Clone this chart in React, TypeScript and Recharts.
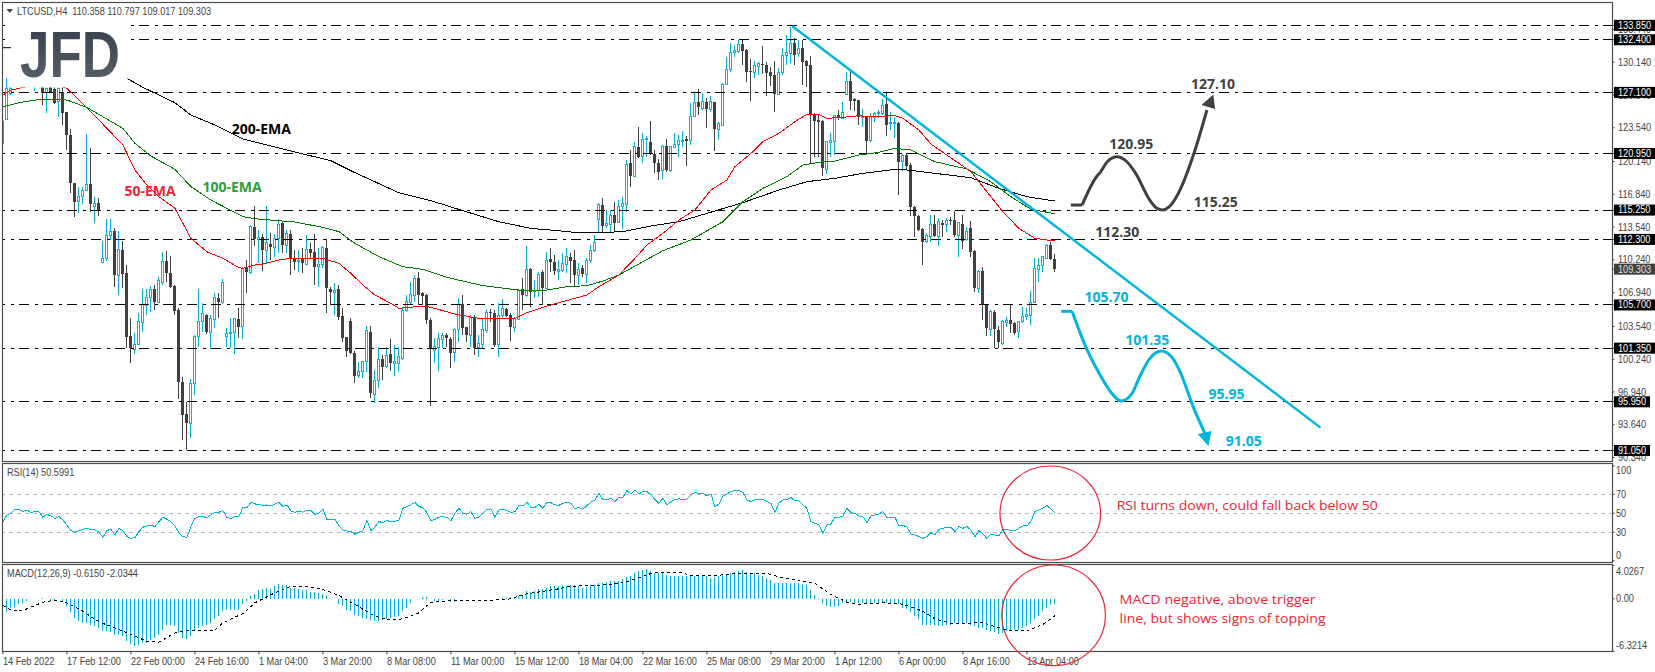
import { Bar, ComposedChart, Line, ReferenceDot, ReferenceLine, XAxis, YAxis } from "recharts";

const openPrices = [
  121.97,124.39,127.00,127.7,128.2,128.6,128.1,128.5,128.0,128.3,
  127.61,127.07,127.61,127.41,126.16,127.17,125.09,122.81,117.94,116.10,
  116.60,117.20,117.87,115.59,116.00,109.95,110.39,112.67,113.14,108.71,
  111.23,108.88,102.57,101.23,101.67,103.95,105.63,106.46,107.27,105.93,
  107.94,110.12,108.88,107.61,105.19,97.97,94.68,93.78,97.81,102.50,
  104.01,104.69,102.91,104.28,106.43,105.93,102.50,102.84,102.91,104.25,
  103.51,109.38,108.95,113.51,112.24,112.51,111.16,111.83,111.50,112.40,
  113.91,111.73,112.84,110.39,110.06,110.39,109.82,111.30,111.06,109.55,
  109.79,111.40,107.30,106.97,107.27,104.59,102.44,104.12,100.89,98.58,
  99.05,99.99,103.01,96.70,98.07,100.22,99.48,100.76,99.82,99.82,
  100.32,105.12,105.96,106.70,108.44,106.87,106.70,104.18,101.09,101.43,
  102.27,102.67,102.24,100.93,103.24,105.79,103.44,102.67,104.52,101.43,
  101.67,103.11,105.02,104.92,101.67,104.59,105.26,104.69,103.44,104.28,
  107.27,106.70,109.28,107.03,107.14,109.05,107.37,110.29,110.06,109.05,
  109.15,109.82,110.49,110.22,108.71,109.38,108.81,110.16,111.16,114.32,
  115.76,113.65,113.85,114.75,113.98,115.59,115.86,119.96,118.68,121.63,
  120.63,122.37,122.07,120.90,119.96,119.22,121.70,119.22,121.57,121.90,
  122.24,122.37,122.24,124.65,126.10,125.49,126.16,125.33,126.16,123.38,
  123.81,127.88,129.42,131.10,131.20,131.94,131.37,129.25,129.08,129.69,
  129.96,129.86,129.12,128.85,126.84,129.12,130.86,131.03,132.04,131.03,
  131.53,130.26,129.86,124.92,124.32,124.25,119.38,122.04,122.14,124.82,
  124.49,126.90,128.25,126.40,126.33,124.59,124.65,122.30,124.59,124.99,
  124.99,125.93,123.92,123.92,124.05,120.12,120.79,119.79,115.59,114.65,
  113.31,112.07,112.64,113.85,112.64,113.98,113.75,114.25,114.25,112.74,
  113.85,112.24,113.41,111.16,107.37,109.12,105.79,103.24,105.02,103.18,
  101.83,103.91,104.18,103.91,103.01,104.01,104.52,104.59,105.93,109.28,
  109.65,110.39,111.73,110.358,
];

const highPrices = [
  124.99,128.51,127.61,128.6,129.0,129.3,128.9,129.1,128.7,129.0,
  128.3,128.0,127.9,127.7,127.9,127.8,125.09,123.38,117.94,117.61,
  117.61,122.88,121.47,116.60,116.43,112.17,114.35,114.35,113.41,113.14,
  112.17,109.72,104.35,102.84,104.85,107.27,107.27,107.61,107.71,108.54,
  111.06,111.16,110.63,107.71,105.36,98.41,95.96,98.21,102.67,107.27,
  105.86,104.79,104.69,106.93,106.93,108.28,103.34,104.35,104.35,105.36,
  109.49,110.22,113.75,115.66,113.24,112.84,115.66,112.91,112.84,114.35,
  114.08,113.24,113.24,111.23,111.23,111.40,112.74,111.90,112.81,111.40,
  111.63,112.30,107.47,107.87,107.71,105.36,102.50,104.35,101.09,99.99,
  99.99,103.58,103.58,99.15,101.50,100.66,101.50,102.24,101.67,101.50,
  105.53,106.70,107.97,108.71,109.05,107.03,106.80,104.35,102.34,102.84,
  102.84,102.84,102.50,103.34,106.36,106.70,103.51,104.69,104.69,102.67,
  104.35,105.26,105.26,105.19,105.86,106.30,105.36,104.85,104.52,107.27,
  108.38,111.63,109.45,108.21,109.05,109.22,111.06,111.40,110.73,110.22,
  110.89,111.40,110.89,111.23,109.89,109.72,110.39,111.73,112.74,115.93,
  116.43,115.26,115.26,116.10,116.26,116.60,120.29,121.30,122.14,123.65,
  122.98,122.71,124.22,121.30,120.36,121.80,122.37,121.70,122.98,122.81,
  123.21,122.71,126.00,127.07,127.41,127.07,126.50,126.73,126.16,124.15,
  128.01,130.63,132.04,131.87,132.37,132.37,131.43,130.43,130.26,130.19,
  131.77,130.19,129.69,130.26,129.52,131.53,132.88,133.72,132.54,132.37,
  132.37,130.36,130.76,124.99,124.82,124.32,122.20,123.04,124.82,125.33,
  126.16,129.18,129.29,126.50,126.33,125.39,124.72,124.99,125.16,125.33,
  126.40,127.07,125.16,124.65,124.15,120.90,120.96,120.02,115.66,114.75,
  113.41,112.91,114.75,114.75,114.42,114.25,114.42,114.59,115.19,114.08,
  114.75,113.58,114.15,111.23,109.22,109.49,105.79,105.19,105.19,103.58,
  104.18,104.52,105.69,104.01,104.12,105.46,105.36,107.10,110.39,110.39,
  110.56,111.83,112.07,110.797,
];

const lowPrices = [
  121.30,124.32,126.84,127.7,127.8,128.0,127.8,127.9,127.27,127.8,
  125.83,125.06,127.0,125.93,124.59,123.82,121.30,116.94,114.59,114.92,
  115.86,117.20,115.02,113.98,114.65,109.89,110.16,112.24,107.47,106.70,
  107.37,101.33,99.89,100.76,101.67,103.01,104.69,105.02,105.19,105.86,
  107.71,108.04,107.37,104.69,96.20,92.10,91.09,92.27,96.63,101.50,
  103.01,102.77,101.23,103.34,104.35,105.79,101.50,101.33,100.73,102.34,
  102.24,106.93,108.81,111.63,109.89,109.15,109.89,110.22,110.49,110.89,
  110.89,110.89,108.71,109.22,109.05,108.88,109.72,110.39,107.71,107.47,
  109.38,104.92,105.69,104.69,104.18,102.00,100.49,100.76,97.81,98.31,
  98.31,98.98,96.30,95.86,97.30,98.14,99.32,99.08,98.54,98.98,
  100.16,105.02,105.69,106.03,105.69,105.69,103.78,95.52,99.82,99.08,
  101.33,101.50,99.38,99.99,102.00,102.67,102.00,101.50,100.66,100.49,
  101.33,102.84,104.01,101.50,100.49,104.35,104.52,102.10,103.01,104.18,
  105.19,106.53,105.46,106.36,106.53,105.69,107.37,109.05,108.71,108.21,
  109.05,108.88,107.87,107.54,107.71,108.54,107.87,109.89,111.06,112.91,
  112.91,113.41,113.08,113.01,113.91,113.31,115.09,117.61,118.61,120.46,
  120.02,120.63,120.79,118.95,118.28,118.34,119.12,119.12,121.47,120.63,
  121.63,119.69,121.80,124.59,124.82,125.33,123.48,125.16,121.23,122.30,
  123.71,127.84,129.18,130.63,131.10,129.86,128.18,126.26,128.51,128.85,
  128.95,126.73,127.74,125.16,126.84,128.85,129.86,130.02,129.86,130.69,
  127.84,127.67,120.02,120.63,120.63,118.71,118.88,120.63,120.79,124.32,
  124.39,126.84,125.33,125.26,123.82,123.65,120.90,122.14,124.15,124.49,
  124.82,122.71,123.31,122.47,116.77,119.22,119.28,114.65,112.51,113.18,
  109.72,111.90,112.07,112.51,111.63,112.57,113.08,113.75,112.51,110.56,
  111.30,112.17,110.49,107.03,106.87,104.18,102.57,102.57,101.33,101.33,
  101.67,103.51,102.84,102.67,102.34,103.85,104.18,103.68,105.86,108.04,
  109.05,110.29,110.22,109.017,
];

const closePrices = [
  124.15,127.51,127.51,128.2,128.6,128.1,128.5,128.0,128.3,128.4,
  127.07,127.51,127.17,126.06,127.51,125.06,122.81,117.94,116.10,116.60,
  117.27,117.87,115.86,115.93,115.26,110.39,112.71,113.08,108.71,111.30,
  108.81,102.44,101.33,101.73,104.01,105.79,106.46,107.27,106.03,108.21,
  110.12,108.88,107.47,105.09,97.97,94.62,93.78,97.81,102.57,104.01,
  104.79,103.01,104.35,106.46,106.03,107.97,102.84,102.97,104.35,103.51,
  109.38,109.05,113.58,112.30,112.51,111.23,112.00,111.50,112.40,113.75,
  111.73,112.91,110.39,110.06,110.22,109.89,111.30,110.89,109.55,109.79,
  111.50,107.37,106.97,107.20,104.52,102.34,101.09,100.83,98.58,99.05,
  99.99,103.08,96.80,98.14,100.16,99.48,100.66,99.82,100.05,100.56,
  105.19,106.03,106.80,108.38,106.70,106.60,104.18,101.33,101.50,102.34,
  102.67,102.34,100.89,103.24,105.79,103.34,102.67,104.45,101.33,101.77,
  103.18,104.92,104.85,101.67,104.59,105.36,104.59,103.44,104.35,107.20,
  106.70,109.28,107.03,107.20,108.81,107.37,110.22,110.06,109.15,109.28,
  109.89,110.56,110.12,108.71,109.22,108.81,110.16,111.16,112.00,115.83,
  113.65,113.91,114.75,113.98,115.66,115.93,119.89,118.68,121.70,120.63,
  122.37,122.47,120.90,119.96,119.12,121.70,119.28,121.63,121.90,122.30,
  122.30,122.24,124.65,126.10,125.59,126.16,125.39,126.16,123.38,123.98,
  127.94,129.42,131.13,131.27,131.94,131.30,129.18,129.12,129.76,129.96,
  129.82,129.08,128.75,126.90,129.12,130.86,131.10,132.04,130.86,131.53,
  130.19,129.79,124.82,124.25,124.15,119.45,122.14,122.24,124.75,124.49,
  125.09,128.18,126.26,126.26,124.65,124.65,122.24,124.65,124.99,125.06,
  125.83,123.82,124.05,124.05,120.12,120.79,119.72,115.59,114.65,113.24,
  112.07,112.74,113.85,112.64,114.08,113.75,114.25,114.18,112.74,113.98,
  112.17,113.14,111.06,107.37,109.05,105.69,103.34,105.02,103.24,102.00,
  104.01,104.12,103.78,102.91,104.01,104.52,104.69,105.93,109.38,109.65,
  110.56,111.73,110.29,109.303,
];

// EMAs are read at their turning points, the line joins them
const ema50Bars = [0,2,4,8,13,16,22,26,30,33,36,39,43,45,47,51,55,59,60,63,65,69,72,76,80,84,87,90,93,97,99,105,107,113,119,128,131,136,139,142,146,149,154,158,161,165,169,173,177,181,183,187,190,194,198,201,204,206,210,214,217,223,225,229,232,236,239,242,246,250,254,258,263];
const ema50Values = [126.84,127.34,127.51,127.84,127.84,127.51,125.16,123.48,121.80,119.29,117.77,116.60,115.43,113.91,112.40,111.06,110.39,109.45,109.38,109.72,109.82,110.22,110.39,110.39,110.39,109.89,108.88,107.71,106.70,105.86,105.36,105.59,105.46,104.79,104.35,104.35,104.92,105.59,105.93,106.26,106.70,107.54,108.71,110.39,111.73,112.91,114.25,115.26,117.27,118.28,119.62,120.96,122.14,122.98,124.15,124.89,124.89,124.49,124.59,124.75,124.65,124.75,124.49,123.31,121.90,120.79,119.96,119.12,117.10,115.09,113.41,112.40,112.14];
const ema100Bars = [0,4,8,13,16,21,25,30,33,37,43,47,52,56,60,63,69,73,80,84,88,94,100,105,111,120,129,136,141,146,150,154,160,165,172,180,185,190,196,200,205,208,214,219,223,227,233,241,247,252,257,263];
const ema100Values = [125.66,126.06,126.33,126.40,126.33,125.59,124.65,123.48,121.97,120.69,119.35,117.61,116.26,115.43,114.59,114.38,114.18,114.05,113.51,113.08,111.90,110.56,109.55,109.28,108.48,107.64,107.20,107.20,107.54,107.64,108.11,108.71,110.06,111.16,112.24,114.08,116.10,117.44,118.61,119.79,120.12,120.19,120.79,121.06,121.47,121.30,120.12,119.39,118.11,116.60,115.32,114.89];
const ema200Bars = [31,35,43,47,53,60,71,82,88,99,107,115,124,132,137,144,148,155,162,169,176,185,194,201,208,215,224,231,242,249,256,263];
const ema200Values = [128.51,127.61,126.06,124.82,123.82,122.41,121.30,120.22,119.02,117.00,116.20,115.19,114.08,113.41,113.24,112.97,112.97,113.08,113.65,114.08,114.92,116.00,117.27,118.11,118.45,118.95,119.39,119.05,118.51,117.44,116.60,116.16];

const rsiValues = [
  41.2,48.2,50,54.2,54.2,51.8,53.5,50.7,51.8,51.8,
  45.8,48.9,47.2,44.7,46.5,43.0,37.7,31.8,30.0,31.8,
  33.2,34.2,32.5,32.5,30,24.7,31.8,33.2,27.2,34.2,
  31.8,25.4,23.7,24.4,30.7,35.3,36.7,37.7,36,41.2,
  45.8,43.7,41.2,36.7,29.6,25.4,24.7,36,44.7,46.5,
  46.5,45.4,48.2,51.1,51.1,52.8,45.4,44.7,46.5,46.5,
  56.3,56.0,61.6,59.8,59.5,57.7,58.8,57.7,59.5,61.6,
  57,58.8,52.5,51.1,51.8,51.1,53.5,52.8,48.9,50,
  54.2,43.7,43,43.7,37,32.5,31.4,30.7,27.9,30,
  31.8,42.3,31.8,35.3,41.2,40.2,42.3,41.2,41.2,43,
  55.3,57,58.8,61.6,57,56,50.7,42.3,43.7,45.8,
  46.5,45.8,42.3,50,55.3,50,48.9,51.8,44.7,45.8,
  50,54.2,54.6,45.8,53.5,54.2,52.8,50.7,51.8,58.1,
  57.7,61.6,56.3,56,59.5,55.3,61.6,61.2,58.8,58.4,
  60.5,61.6,60.5,54.6,56.3,54.2,58.1,61.6,64,71.1,
  64,64,65.8,62.3,66.8,66.8,73.9,70.4,74.6,70.4,
  72.8,72.8,69.3,64.7,60.5,65.8,58.8,62.3,64.7,65.1,
  64.7,64.7,69.3,72.1,70.7,71.1,68.2,70.4,57,59.5,
  68.2,70.4,72.8,73.9,73.9,72.1,64,62.3,64,64,
  64.7,62.3,60.5,51.1,60.5,64,64.7,66.5,63,63,
  58.8,55.3,41.2,39.5,37.7,28.9,37.7,38.8,45.8,45.8,
  47.2,55.3,50.7,50,47.2,46.5,40.2,47.2,48.2,49.3,
  51.8,45.8,45.8,45.8,37,37,36,28.2,27.2,25.4,
  23.7,25.4,29.6,27.2,33.2,34.2,35.3,35.3,30.7,36,
  34.2,36,32.5,25.4,31.8,28.2,23.7,28.2,27.2,26.1,
  33.2,33.2,31.8,31.4,34.2,36.7,36.7,41.2,51.8,53.5,
  55.3,58.1,54.6,50.6,
];

const macdValues = [
  -2.01,-1.61,-1.09,-0.96,-0.68,-0.56,-0.28,-0.08,-0.08,0.04,
  0.08,-0.08,-0.28,-0.28,-0.08,-0.28,-0.88,-1.61,-2.29,-2.69,
  -2.89,-2.89,-3.18,-3.22,-3.50,-3.90,-3.90,-4.02,-4.30,-4.30,
  -4.50,-5.11,-5.39,-5.71,-5.51,-5.31,-5.31,-4.90,-4.70,-4.30,
  -3.70,-3.10,-3.10,-3.22,-4.10,-4.70,-4.78,-4.50,-3.90,-3.50,
  -3.30,-3.10,-2.89,-2.41,-2.09,-1.49,-1.37,-1.37,-1.29,-1.37,
  -0.68,-0.28,0.32,0.64,1.05,1.21,1.33,1.21,1.53,1.73,
  1.61,1.61,1.33,1.33,1.13,1.05,1.01,0.84,0.80,0.72,
  0.64,0.40,0.04,-0.02,-0.68,-0.88,-1.29,-1.49,-1.89,-2.09,
  -2.29,-2.41,-2.57,-2.69,-2.61,-2.49,-2.41,-2.29,-2.17,-2.01,
  -1.49,-1.09,-0.56,-0.08,-0.02,0.24,0.24,-0.08,-0.28,-0.28,
  -0.16,-0.08,-0.40,-0.40,-0.08,-0.02,-0.08,-0.02,-0.08,-0.08,
  -0.02,-0.02,-0.08,-0.08,-0.08,0.12,0.12,0.24,0.12,0.40,
  0.52,0.92,0.80,0.92,1.21,1.13,1.33,1.53,1.53,1.53,
  1.53,1.53,1.61,1.61,1.53,1.33,1.41,1.61,1.61,1.85,
  1.85,2.01,2.13,2.13,2.13,2.33,2.65,2.73,3.06,3.34,
  3.46,3.54,3.34,3.14,3.06,3.06,2.93,2.81,2.81,2.73,
  2.73,2.73,2.81,2.81,2.85,2.85,2.73,2.53,2.65,2.73,
  2.85,2.93,3.06,3.22,3.34,3.42,3.22,3.06,3.06,2.93,
  2.73,2.53,2.21,1.85,1.85,1.85,1.85,1.93,1.93,1.85,
  1.73,1.61,1.05,0.52,0.12,-0.48,-0.88,-0.96,-0.96,-0.88,
  -0.56,-0.40,-0.40,-0.48,-0.48,-0.48,-0.56,-0.56,-0.56,-0.48,
  -0.48,-0.56,-0.56,-0.56,-0.68,-1.09,-1.21,-1.61,-2.09,-2.41,
  -3.10,-3.10,-3.10,-3.10,-3.22,-3.22,-3.10,-3.10,-2.89,-2.89,
  -2.89,-2.89,-3.10,-3.30,-3.50,-3.50,-3.70,-3.90,-4.02,-4.18,
  -4.10,-3.90,-3.90,-3.78,-3.70,-3.50,-3.30,-2.89,-2.41,-2.09,
  -1.49,-1.09,-0.80,-0.615,
];

const signalBars = [0,2,4,6,10,13,16,20,24,30,33,36,39,43,46,53,55,60,63,68,72,76,80,84,88,93,97,100,104,107,112,118,126,131,139,142,149,155,159,163,169,172,179,183,191,195,199,203,207,211,214,220,225,230,233,237,245,251,256,260,263];
const signalValues = [-0.80,-1.37,-1.49,-1.21,-0.40,-0.16,-0.48,-1.49,-2.77,-3.90,-4.50,-5.11,-5.23,-4.10,-3.86,-3.78,-2.89,-1.77,-0.48,0.72,1.53,1.53,1.13,0.40,-0.68,-2.09,-2.57,-2.41,-1.69,-0.40,-0.24,-0.24,-0.08,0.60,1.21,1.53,1.61,1.93,2.53,3.22,3.22,2.85,2.85,3.02,3.06,2.53,2.25,1.85,0.52,-0.40,-0.64,-0.48,-0.64,-1.49,-2.41,-2.97,-2.89,-3.78,-3.86,-3.10,-2.03];

const levelPrices = [133.85, 132.4, 127.1, 120.95, 115.25, 112.3, 105.7, 101.35, 95.95, 91.05];
const scalePrices = [133.44, 130.14, 126.84, 123.54, 120.14, 116.84, 113.54, 110.24, 106.94, 103.54, 100.24, 96.94, 93.64, 90.34];
const lastPrice = 109.303;

const dateBars = [0,16,32,48,64,80,96,112,128,144,160,176,192,208,224,240,256];
const dateLabels = ["14 Feb 2022","17 Feb 12:00","22 Feb 00:00","24 Feb 16:00","1 Mar 04:00","3 Mar 20:00","8 Mar 08:00","11 Mar 00:00","15 Mar 12:00","18 Mar 04:00","22 Mar 16:00","25 Mar 08:00","29 Mar 20:00","1 Apr 12:00","6 Apr 00:00","8 Apr 16:00","13 Apr 04:00"];

const darkPathBars = [269.8,273.4,274.3,276.1,278.5,281,283.2,286.7,288.5,289.9,291.6,293.4,297.9,301];
const darkPathPrices = [115.76,118.61,119.02,120.12,120.63,120.12,118.95,116.27,115.43,115.26,115.59,116.6,121.13,125.33];
const bluePathBars = [267.3,270.7,274.3,276.9,279.6,282.3,284,286.7,289.6,292.1,293.9,297.9,300.5];
const bluePathPrices = [105.06,101.5,98.65,96.97,96.03,96.8,98.3,100.3,101.06,100.5,99.32,95.12,92.78];

const CYAN = "#00b4dc";
const DARK = "#404040";
const RED = "#ee2433";
const AXIS_FONT = "'Liberation Sans', Arial, sans-serif";
const NOTE_FONT = "'Open Sans', sans-serif";
const X_DOMAIN = [-0.1, 402.4];

const priceNotes = [
  { text: "127.10", bar: 302.5, price: 127.94, color: DARK },
  { text: "120.95", bar: 282.1, price: 121.9, color: DARK },
  { text: "115.25", bar: 303.2, price: 116.06, color: DARK },
  { text: "112.30", bar: 278.6, price: 113.04, color: DARK },
  { text: "105.70", bar: 275.9, price: 106.5, color: CYAN },
  { text: "101.35", bar: 286.1, price: 102.17, color: CYAN },
  { text: "95.95", bar: 305.9, price: 96.74, color: CYAN },
  { text: "91.05", bar: 310.2, price: 92.0, color: CYAN },
  { text: "200-EMA", bar: 64.6, price: 123.41, color: "#000000" },
  { text: "50-EMA", bar: 36.8, price: 117.2, color: RED },
  { text: "100-EMA", bar: 57.3, price: 117.57, color: "#2c9e3f" },
];

const lookup = (bars: number[], values: number[]) => new Map(bars.map((b, k) => [b, values[k]]));
const ema50 = lookup(ema50Bars, ema50Values);
const ema100 = lookup(ema100Bars, ema100Values);
const ema200 = lookup(ema200Bars, ema200Values);
const signal = lookup(signalBars, signalValues);

const priceRows = openPrices.map((open, bar) => ({
  bar,
  open,
  high: highPrices[bar],
  low: lowPrices[bar],
  close: closePrices[bar],
  ema50: ema50.get(bar) ?? null,
  ema100: ema100.get(bar) ?? null,
  ema200: ema200.get(bar) ?? null,
}));
const rsiRows = rsiValues.map((rsi, bar) => ({ bar, rsi }));
const macdRows = macdValues.map((macd, bar) => ({ bar, macd, signal: signal.get(bar) ?? null }));
const darkPath = darkPathBars.map((bar, k) => ({ bar, price: darkPathPrices[k] }));
const bluePath = bluePathBars.map((bar, k) => ({ bar, price: bluePathPrices[k] }));

// MT4 labels are Tahoma: tall and narrow, so squeeze Liberation a bit
function AxisText({ x, y, fill = "#444444", children }: any) {
  return (
    <text transform={`translate(${x} ${y}) scale(0.9 1)`} fontFamily={AXIS_FONT} fontSize={10.2} fill={fill} xmlSpace="preserve">
      {children}
    </text>
  );
}

function Candle(props: any) {
  const { x, y, width, height, payload } = props;
  if (!payload || !Number.isFinite(height)) return null;
  const mid = Math.round(x + width / 2 - 0.5) + 0.5;
  const span = payload.high - payload.low || 1;
  const yOf = (p: number) => y + ((payload.high - p) / span) * height;
  const up = payload.close >= payload.open;
  const top = yOf(Math.max(payload.open, payload.close));
  const bottom = yOf(Math.min(payload.open, payload.close));
  const color = up ? CYAN : DARK;
  return (
    <g shapeRendering="crispEdges">
      <line x1={mid} x2={mid} y1={y} y2={y + height} stroke={color} strokeWidth={1} />
      {up ? (
        <rect x={mid - 1} y={top} width={2} height={Math.max(bottom - top, 1)} fill="#ffffff" stroke={CYAN} strokeWidth={1} />
      ) : (
        <rect x={mid - 1.5} y={top} width={3} height={Math.max(bottom - top, 1)} fill={DARK} />
      )}
    </g>
  );
}

function PriceTick(props: any) {
  const { y, payload } = props;
  const value = payload.value;
  const label = value.toFixed(3);
  const isLevel = levelPrices.includes(value);
  const isLast = value === lastPrice;
  if (isLevel || isLast) {
    const w = label.length === 6 ? 36 : 41;
    return (
      <g>
        <rect x={1614} y={y - 5.5} width={w} height={11} fill={isLast ? DARK : "#000000"} />
        <AxisText x={1618} y={y + 3.4} fill={isLast ? "#e0e0e0" : "#ffffff"}>{label}</AxisText>
      </g>
    );
  }
  return <AxisText x={1618} y={y + 3.6}>{label}</AxisText>;
}

const paneOffsets: Record<string, number> = { "100": 4.5, "0": -5, "4.0267": 5.6, "-6.3214": -6 };

function PaneTick(props: any) {
  const { y, payload } = props;
  const value = payload.value;
  const label = value === 0 && props.macd ? "0.00" : String(value);
  const dy = props.macd && value === 0 ? 0 : paneOffsets[String(value)] ?? 0;
  return <AxisText x={1616} y={y + dy + 3.6}>{label}</AxisText>;
}

function DateTick(props: any) {
  const { x, y, payload } = props;
  return <AxisText x={x} y={y + 9}>{dateLabels[dateBars.indexOf(payload.value)]}</AxisText>;
}

const noteShape = (text: string, color: string) => (p: any) => (
  <text x={p.cx} y={p.cy + 5} textAnchor="middle" fontFamily={NOTE_FONT} fontWeight={700} fontSize={14} fill={color}>{text}</text>
);

const arrowUp = (p: any) => (
  <polygon points={`${p.cx},${p.cy} ${p.cx - 11.7},${p.cy + 10.7} ${p.cx + 1.8},${p.cy + 14.7}`} fill={DARK} />
);
const arrowDown = (p: any) => (
  <polygon points={`${p.cx},${p.cy} ${p.cx - 10.7},${p.cy - 11.7} ${p.cx + 2.8},${p.cy - 15}`} fill={CYAN} />
);

export default function App() {
  return (
    <div style={{ position: "absolute", left: 0, top: 0, width: 1655, height: 672, background: "#ffffff", overflow: "hidden" }}>
      <div style={{ position: "absolute", left: 0, top: 0 }}>
        <ComposedChart width={1655} height={463} data={priceRows} margin={{ top: 2.5, right: 0, bottom: 1.5, left: 2.5 }}>
          <XAxis dataKey="bar" type="number" domain={X_DOMAIN} allowDataOverflow hide />
          <YAxis
            orientation="right"
            width={42.5}
            domain={[89.94, 136.15]}
            allowDataOverflow
            ticks={[...scalePrices, lastPrice, ...levelPrices]}
            interval={0}
            tick={<PriceTick />}
            tickSize={2}
            tickLine={{ stroke: "#444444" }}
            axisLine={false}
          />
          {levelPrices.map((level) => (
            <ReferenceLine key={level} y={level} stroke="#000000" strokeWidth={1} strokeDasharray="10 5 3 6" shapeRendering="crispEdges" />
          ))}
          <ReferenceLine segment={[{ x: 0, y: 131.6 }, { x: 3, y: 131.6 }]} stroke="#000000" strokeWidth={1} />
          <Bar dataKey={(r: any) => [r.low, r.high]} barSize={3} shape={<Candle />} isAnimationActive={false} />
          <Line dataKey="ema200" stroke="#000000" strokeWidth={1} dot={false} connectNulls shapeRendering="crispEdges" isAnimationActive={false} />
          <Line dataKey="ema100" stroke="#007a00" strokeWidth={1} dot={false} connectNulls shapeRendering="crispEdges" isAnimationActive={false} />
          <Line dataKey="ema50" stroke="#ff0000" strokeWidth={1} dot={false} connectNulls shapeRendering="crispEdges" isAnimationActive={false} />
          <ReferenceLine segment={[{ x: 197.3, y: 133.78 }, { x: 329.4, y: 93.35 }]} stroke={CYAN} strokeWidth={2.4} />
          <ReferenceLine segment={[{ x: 267, y: 115.76 }, { x: 269.8, y: 115.76 }]} stroke={DARK} strokeWidth={3} />
          <ReferenceLine segment={[{ x: 264.6, y: 105.06 }, { x: 267.3, y: 105.06 }]} stroke={CYAN} strokeWidth={3} />
          <Line data={darkPath} dataKey="price" type="monotone" stroke={DARK} strokeWidth={3} dot={false} isAnimationActive={false} />
          <Line data={bluePath} dataKey="price" type="monotone" stroke={CYAN} strokeWidth={3} dot={false} isAnimationActive={false} />
          <ReferenceDot x={302.6} y={126.9} r={0} shape={arrowUp} />
          <ReferenceDot x={301.4} y={91.5} r={0} shape={arrowDown} />
          {priceNotes.map((n) => (
            <ReferenceDot key={n.text} x={n.bar} y={n.price} r={0} shape={noteShape(n.text, n.color)} />
          ))}
        </ComposedChart>
      </div>

      <div style={{ position: "absolute", left: 0, top: 460 }}>
        <ComposedChart width={1655} height={106} data={rsiRows} margin={{ top: 3.3, right: 0, bottom: 3.7, left: 2.5 }}>
          <XAxis dataKey="bar" type="number" domain={X_DOMAIN} allowDataOverflow hide />
          <YAxis
            orientation="right"
            width={42.5}
            domain={[-1.6, 102.6]}
            allowDataOverflow
            ticks={[100, 70, 50, 30, 0]}
            interval={0}
            tick={<PaneTick />}
            tickSize={2}
            tickLine={{ stroke: "#444444" }}
            axisLine={false}
          />
          {[70, 50, 30].map((level) => (
            <ReferenceLine key={level} y={level} stroke="#bdbdbd" strokeWidth={1} strokeDasharray="4 4" shapeRendering="crispEdges" />
          ))}
          <Line dataKey="rsi" stroke={CYAN} strokeWidth={1} dot={false} shapeRendering="crispEdges" isAnimationActive={false} />
        </ComposedChart>
      </div>

      <div style={{ position: "absolute", left: 0, top: 562 }}>
        <ComposedChart width={1655} height={110} data={macdRows} margin={{ top: 2.3, right: 0, bottom: 0, left: 2.5 }}>
          <XAxis
            dataKey="bar"
            type="number"
            domain={X_DOMAIN}
            allowDataOverflow
            ticks={dateBars}
            interval={0}
            height={20.7}
            tick={<DateTick />}
            tickSize={3}
            tickLine={{ stroke: "#444444" }}
            axisLine={false}
          />
          <YAxis
            orientation="right"
            width={42.5}
            domain={[-6.32, 4.16]}
            allowDataOverflow
            ticks={[4.0267, 0, -6.3214]}
            interval={0}
            tick={<PaneTick macd />}
            tickSize={2}
            tickLine={{ stroke: "#444444" }}
            axisLine={false}
          />
          <Bar dataKey="macd" barSize={1} fill={CYAN} shapeRendering="crispEdges" isAnimationActive={false} />
          <Line dataKey="signal" stroke="#000000" strokeWidth={1} strokeDasharray="3 3" dot={false} connectNulls shapeRendering="crispEdges" isAnimationActive={false} />
        </ComposedChart>
      </div>

      <svg width={1655} height={672} style={{ position: "absolute", left: 0, top: 0, pointerEvents: "none" }}>
        <defs>
          <linearGradient id="logoFill" x1="0" y1="0" x2="0" y2="1">
            <stop offset="0" stopColor="#333d48" />
            <stop offset="1" stopColor="#5d656d" />
          </linearGradient>
        </defs>
        <g fill="none" stroke="#4d4d4d" strokeWidth={1.2}>
          <rect x={2.5} y={2.5} width={1610} height={459} />
          <rect x={2.5} y={463.5} width={1610} height={99} />
          <rect x={2.5} y={564.5} width={1610} height={87} />
        </g>

        <rect x={11} y={20} width={116.5} height={67.5} fill="#ffffff" />
        <text x={20} y={77} fontFamily={AXIS_FONT} fontWeight={700} fontSize={65} fill="url(#logoFill)" textLength={100} lengthAdjust="spacingAndGlyphs">JFD</text>

        <polygon points="6.5,9 13,9 9.7,13" fill="#444444" />
        <AxisText x={17} y={14.5}>LTCUSD,H4  110.358 110.797 109.017 109.303</AxisText>
        <AxisText x={7} y={476}>RSI(14) 50.5991</AxisText>
        <AxisText x={7} y={577}>MACD(12,26,9) -0.6150 -2.0344</AxisText>

        <ellipse cx={1050.3} cy={513} rx={50.3} ry={47} fill="none" stroke={RED} strokeWidth={1.2} />
        <ellipse cx={1053.6} cy={615.3} rx={51.8} ry={50.3} fill="none" stroke={RED} strokeWidth={1.2} />

        <text x={1116.7} y={510} fontFamily={NOTE_FONT} fontSize={13} fill={RED} textLength={261} lengthAdjust="spacingAndGlyphs">RSI turns down, could fall back below 50</text>
        <text x={1119.6} y={604} fontFamily={NOTE_FONT} fontSize={13} fill={RED} textLength={196} lengthAdjust="spacingAndGlyphs">MACD negative, above trigger</text>
        <text x={1119.6} y={623} fontFamily={NOTE_FONT} fontSize={13} fill={RED} textLength={206} lengthAdjust="spacingAndGlyphs">line, but shows signs of topping</text>
      </svg>
    </div>
  );
}
